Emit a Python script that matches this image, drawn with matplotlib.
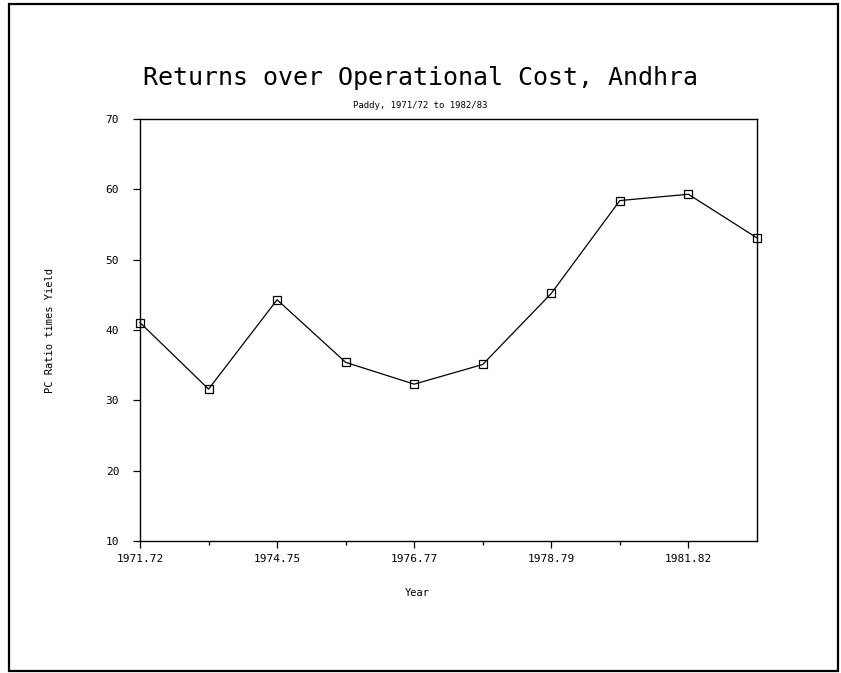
import matplotlib
matplotlib.use("Agg")
import matplotlib.pyplot as plt
from matplotlib.patches import Rectangle
from matplotlib.ticker import FixedLocator

# Data
season_index = [0, 1, 2, 3, 4, 5, 6, 7, 8, 9]
values = [41.05, 31.6, 44.3, 35.4, 32.3, 35.1, 45.2, 58.4, 59.3, 53.1]
tick_positions = [0, 2, 4, 6, 8]
tick_labels = ["1971.72", "1974.75", "1976.77", "1978.79", "1981.82"]
y_ticks = [10, 20, 30, 40, 50, 60, 70]

title = "Returns over Operational Cost, Andhra"
subtitle = "Paddy, 1971/72 to 1982/83"
xlabel = "Year"
ylabel = "PC Ratio times Yield"

mono = "DejaVu Sans Mono"

fig = plt.figure(figsize=(8.41, 6.73), dpi=100)
fig.patch.set_facecolor("white")

# outer frame
fig.patches.append(Rectangle((0.011, 0.003), 0.985, 0.991, transform=fig.transFigure,
                             fill=False, edgecolor="black", linewidth=1.6))

ax = fig.add_axes([0.1665, 0.1961, 0.7335, 0.6271])
ax.plot(season_index, values, color="black", linewidth=0.9,
        marker="s", markersize=6, markerfacecolor="none",
        markeredgecolor="black", markeredgewidth=0.9, clip_on=False)

ax.set_xlim(0, 9)
ax.set_ylim(10, 70)
ax.set_yticks(y_ticks)
ax.set_xticks(tick_positions)
ax.set_xticklabels(tick_labels, fontfamily=mono, fontsize=8)
ax.xaxis.set_minor_locator(FixedLocator([1, 3, 5, 7]))
for lab in ax.get_yticklabels():
    lab.set_fontfamily(mono)
    lab.set_fontsize(8)
ax.tick_params(axis="x", which="major", direction="out", length=5, width=0.9, pad=4)
ax.tick_params(axis="y", which="major", direction="out", length=5, width=0.9, pad=10)
ax.tick_params(axis="x", which="minor", direction="out", length=3, width=0.9)
for s in ax.spines.values():
    s.set_linewidth(1.0)
    s.set_color("black")

ax.set_xlabel(xlabel, fontfamily=mono, fontsize=7.5)
ax.xaxis.set_label_coords(0.449, -0.111)
ax.set_ylabel(ylabel, fontfamily=mono, fontsize=7.5, va="center")
ax.yaxis.set_label_coords(-0.146, 0.5)

fig.text(0.5, 0.884, title, ha="center", va="center", fontfamily=mono,
         fontsize=18)
fig.text(0.5, 0.843, subtitle, ha="center", va="center", fontfamily=mono, fontsize=6.5)

fig.savefig("out.png", dpi=100, facecolor="white")
